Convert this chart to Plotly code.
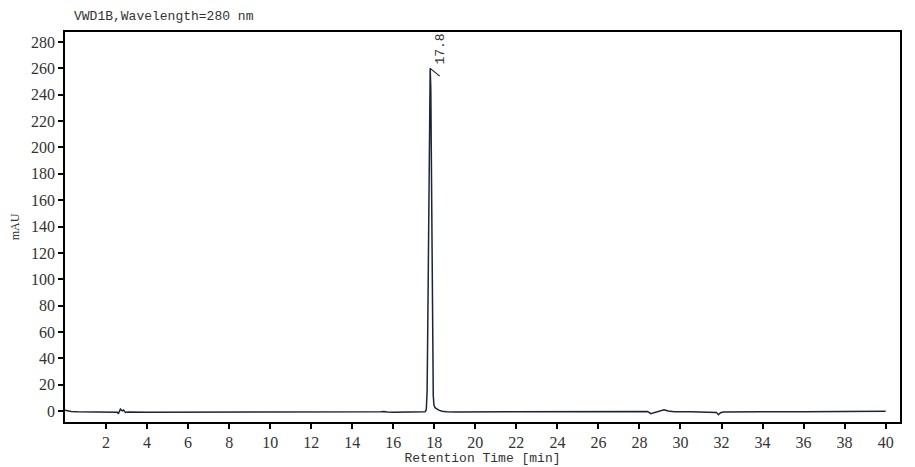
import plotly.graph_objects as go

# signal (retention time in min, absorbance in mAU)
time_min = [0.0, 0.1, 0.3, 0.6, 1.0, 1.5, 2.0, 2.4, 2.55, 2.6, 2.65, 2.7, 2.75, 2.8, 2.85, 2.9, 2.95, 3.0,
            3.1, 4.0, 6.0, 8.0, 10.0, 12.0, 14.0, 15.0, 15.4, 15.55, 15.7, 16.0, 16.5, 17.0, 17.4, 17.55,
            17.61, 17.65, 17.68, 17.72, 17.76, 17.80, 17.83, 17.86, 17.89, 17.92, 17.95, 17.98, 18.02,
            18.08, 18.15, 18.25, 18.38, 18.6, 19.0, 20.0, 22.0, 24.0, 26.0, 27.5, 28.4, 28.55, 28.65,
            28.8, 29.0, 29.2, 29.4, 29.7, 30.5, 31.5, 31.75, 31.85, 31.95, 32.1, 32.5, 34.0, 36.0,
            38.0, 40.0]
signal_mau = [0.6, 0.2, -0.3, -0.5, -0.6, -0.7, -0.7, -0.8, -0.9, -2.0, -0.6, 1.5, 0.6, 0.2, 0.8, -0.2, -1.0, -0.9,
              -0.8, -0.9, -0.9, -1.0, -1.0, -1.0, -1.0, -0.9, -0.6, -0.3, -0.7, -0.9, -0.9, -0.9, -0.8, -0.6,
              1.0, 15.0, 60.0, 150.0, 230.0, 260.0, 245.0, 175.0, 90.0, 35.0, 12.0, 5.0, 3.0,
              2.0, 1.2, 0.5, -0.2, -0.6, -0.7, -0.7, -0.7, -0.6, -0.4, -0.2, -0.3, -2.0, -1.6,
              -0.5, 0.3, 1.0, 0.0, -0.5, -0.6, -0.7, -1.0, -2.8, -1.2, -0.8, -0.7, -0.6, -0.5,
              -0.3, -0.2]

peak_rt = [17.8]
peak_height = [260.0]
peak_labels = ["17.8"]

x_ticks = list(range(2, 41, 2))
y_ticks = list(range(0, 281, 20))

line_col = "#1b2536"
txt_col = "#333333"
serif = "Liberation Serif, Times New Roman, serif"
mono = "Liberation Mono, Courier New, monospace"

fig = go.Figure(go.Scatter(
    x=time_min, y=signal_mau, mode="lines",
    line=dict(color=line_col, width=1.5),
    showlegend=False
))

# peak label: small tick from the apex plus rotated retention time
for rt, h, lab in zip(peak_rt, peak_height, peak_labels):
    fig.add_annotation(x=rt, y=h, text="", showarrow=True, arrowhead=0,
                       arrowwidth=1.2, arrowcolor=line_col, ax=11, ay=9)
    fig.add_annotation(x=rt, y=h, text=lab, showarrow=False, textangle=-90,
                       xshift=10, yshift=19, font=dict(family=mono, size=13, color=txt_col))

fig.add_annotation(text="VWD1B,Wavelength=280 nm", xref="paper", yref="paper",
                   x=0.008, y=1.0, xanchor="left", yanchor="bottom", yshift=6, showarrow=False,
                   font=dict(family=mono, size=13, color=txt_col))

# page body adds an 8px offset, so the margins are shifted to compensate
fig.update_layout(
    width=915, height=467,
    margin=dict(l=57, r=23, t=24, b=53, autoexpand=False),
    plot_bgcolor="white", paper_bgcolor="white",
    font=dict(family=serif, size=15, color=txt_col),
)
fig.update_xaxes(
    range=[0, 40.7], tickvals=x_ticks, ticks="outside", ticklen=5, tickwidth=1.5,
    tickcolor="black", showline=True, linecolor="black", linewidth=1.5, mirror=True,
    showgrid=False, zeroline=False, automargin=False,
    tickfont=dict(family=serif, size=16, color=txt_col),
    title=dict(text="Retention Time [min]", standoff=1,
               font=dict(family=mono, size=13, color=txt_col)),
)
fig.update_yaxes(
    range=[-8.3, 287.6], tickvals=y_ticks, ticks="outside", ticklen=5, tickwidth=1.5,
    tickcolor="black", showline=True, linecolor="black", linewidth=1.5, mirror=True,
    showgrid=False, zeroline=False, automargin=False,
    tickfont=dict(family=serif, size=16, color=txt_col),
    title=dict(text="mAU", standoff=12,
               font=dict(family=serif, size=12, color=txt_col)),
)

fig.write_html("out.html")
